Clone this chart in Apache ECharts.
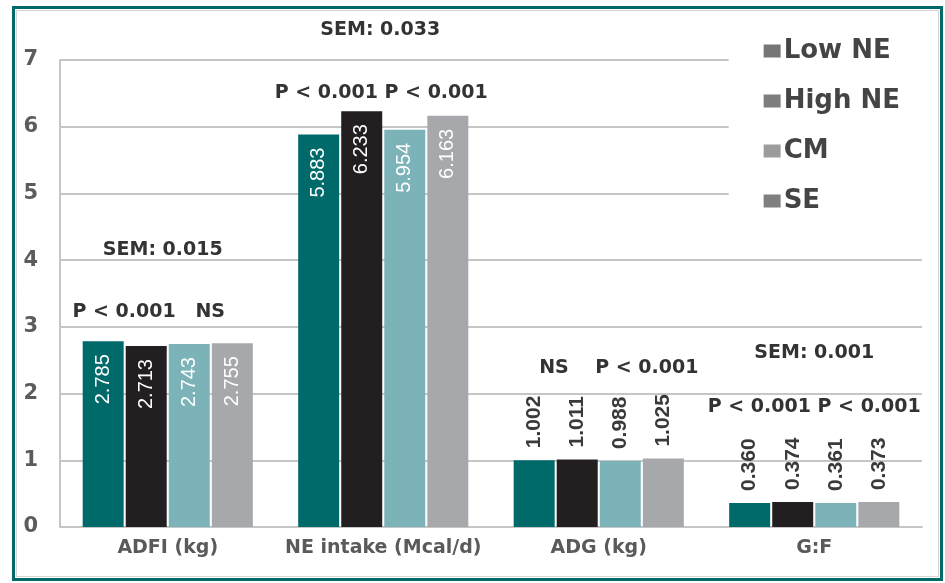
<!DOCTYPE html>
<html>
<head>
<meta charset="utf-8">
<script src="https://cdn.jsdelivr.net/npm/echarts@6/dist/echarts.min.js"></script>
<style>
  html, body { margin: 0; padding: 0; background: #ffffff; }
  #chart { width: 945px; height: 583px; }
</style>
</head>
<body>
<div id="chart"></div>
<script>
// Performance measures by diet
const categories = ['ADFI (kg)', 'NE intake (Mcal/d)', 'ADG (kg)', 'G:F'];
const seriesNames = ['Low NE', 'High NE', 'CM', 'SE'];
const lowNE  = [2.785, 5.883, 1.002, 0.360];
const highNE = [2.713, 6.233, 1.011, 0.374];
const cmDiet = [2.743, 5.954, 0.988, 0.361];
const seDiet = [2.755, 6.163, 1.025, 0.373];
const yTicks = [0, 1, 2, 3, 4, 5, 6, 7];

// Statistical notes written over each group: [text, category index, y value, x shift in px]
const noteText = ['SEM: 0.033', 'P < 0.001 P < 0.001', 'SEM: 0.015', 'P < 0.001   NS',
                  'NS    P < 0.001', 'SEM: 0.001', 'P < 0.001 P < 0.001'];
const noteCat  = [1, 1, 0, 0, 2, 3, 3];
const noteY    = [7.45, 6.51, 4.15, 3.22, 2.38, 2.61, 1.80];
const noteDx   = [-3, -2, -5, -19, 20, 0, 0];

const barColors = ['#006a6b', '#231f20', '#7bb3b9', '#a7a8ab'];
const legendIconColors = ['#767676', '#7d7d7d', '#9c9c9c', '#7f7f7f'];
const insideCats = [0, 1]; // groups whose values are printed inside the bars

const BOLD = "'DejaVu Sans', sans-serif";
const NARROW = "'Liberation Sans Narrow', 'Liberation Sans', sans-serif";

function fmt(p) { return Number(p.value).toFixed(3); }

function buildData(values) {
  return values.map(function (v, i) {
    const inside = insideCats.indexOf(i) >= 0;
    return {
      value: v,
      label: inside ? {
        show: true, position: 'insideTop', distance: 13, rotate: 90,
        align: 'right', verticalAlign: 'middle', formatter: fmt,
        color: '#ffffff', fontFamily: NARROW, fontSize: 20, fontWeight: 'normal'
      } : {
        show: true, position: 'top', distance: 12, rotate: 90,
        align: 'left', verticalAlign: 'middle', formatter: fmt,
        color: '#3a3a3a', fontFamily: NARROW, fontSize: 21, fontWeight: 'bold'
      }
    };
  });
}

const allValues = [lowNE, highNE, cmDiet, seDiet];

const chart = echarts.init(document.getElementById('chart'), null, { renderer: 'canvas' });

const option = {
  backgroundColor: '#ffffff',
  animation: false,
  grid: { left: 60, right: 23, top: 60, bottom: 56, containLabel: false },
  legend: {
    orient: 'vertical',
    right: 23,
    top: 28,
    padding: [10, 22, 18, 35],
    backgroundColor: '#ffffff',
    itemWidth: 17,
    itemHeight: 13,
    itemGap: 24,
    icon: 'rect',
    textStyle: { fontFamily: BOLD, fontWeight: 'bold', fontSize: 26, color: '#444444', padding: [0, 0, 0, -2] },
    data: seriesNames.map(function (n, i) {
      return { name: n, itemStyle: { color: legendIconColors[i] } };
    }),
    z: 10
  },
  xAxis: {
    type: 'category',
    data: categories,
    axisLine: { show: true, lineStyle: { color: '#c6c6c6', width: 2 } },
    axisTick: { show: false },
    axisLabel: { interval: 0, margin: 12, fontFamily: BOLD, fontWeight: 'bold', fontSize: 19, color: '#5a5a5a' },
    z: 1
  },
  yAxis: {
    type: 'value',
    min: yTicks[0],
    max: yTicks[yTicks.length - 1],
    interval: 1,
    axisLine: { show: true, lineStyle: { color: '#c6c6c6', width: 2 } },
    axisTick: { show: false },
    splitLine: { show: true, lineStyle: { color: '#c6c6c6', width: 2 } },
    axisLabel: { margin: 22, fontFamily: BOLD, fontWeight: 'bold', fontSize: 21, color: '#5c5c5c' }
  },
  series: allValues.map(function (vals, i) {
    return {
      name: seriesNames[i],
      type: 'bar',
      barWidth: 41,
      barGap: '5%',
      itemStyle: { color: barColors[i] },
      data: buildData(vals),
      z: 3
    };
  }),
  graphic: [
    // teal frame around the figure
    { type: 'rect', shape: { x: 13.5, y: 7.5, width: 928, height: 572 },
      style: { fill: 'none', stroke: '#006a6b', lineWidth: 3 }, z: 100 },
    { type: 'rect', shape: { x: 16.5, y: 10.5, width: 922, height: 566 },
      style: { fill: 'none', stroke: '#d6d6d6', lineWidth: 1 }, z: 100 }
  ]
};

chart.setOption(option);

// Notes are placed through the chart's own axes
const notes = noteText.map(function (t, i) {
  const p = chart.convertToPixel({ xAxisIndex: 0, yAxisIndex: 0 }, [categories[noteCat[i]], noteY[i]]);
  return {
    type: 'text',
    x: p[0] + noteDx[i],
    y: p[1],
    z: 50,
    style: {
      text: t,
      fontFamily: BOLD, fontWeight: 'bold', fontSize: 19,
      fill: '#333333',
      align: 'center', verticalAlign: 'middle'
    }
  };
});
chart.setOption({ graphic: option.graphic.concat(notes) });
</script>
</body>
</html>
